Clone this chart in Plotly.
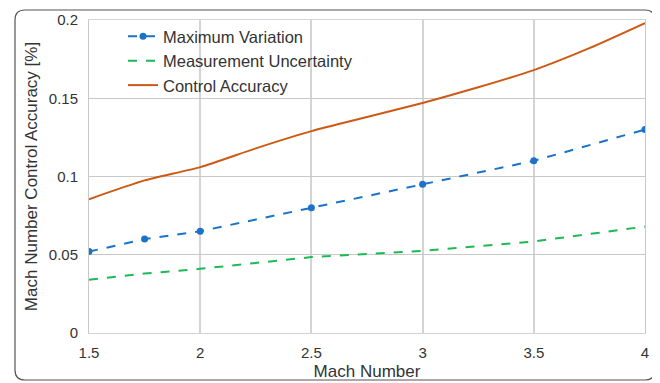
import plotly.graph_objects as go

mach_max = [1.5, 1.75, 2, 2.5, 3, 3.5, 4]
max_variation = [0.052, 0.060, 0.065, 0.080, 0.095, 0.110, 0.130]

mach_meas = [1.5, 1.75, 2, 2.5, 3, 3.5, 4]
meas_uncert = [0.034, 0.038, 0.041, 0.0485, 0.0525, 0.0585, 0.068]

mach_ctrl = [1.5, 1.75, 2, 2.25, 2.5, 2.75, 3, 3.25, 3.5, 3.75, 4]
ctrl_acc = [0.0855, 0.0975, 0.106, 0.118, 0.129, 0.138, 0.147, 0.157, 0.168, 0.182, 0.198]

# page is offset by the 8px body margin, so the figure is 8px smaller
W, H = 652, 375
L, R, T, B = 81, 15, 12, 50
pw, ph = W - L - R, H - T - B

def px(x):
    return (x - L) / pw

def py(y):
    return (H - B - y) / ph

fig = go.Figure()
fig.add_trace(go.Scatter(x=mach_max, y=max_variation, name="Maximum Variation",
                         mode="lines+markers",
                         line=dict(color="#1a73c8", width=2, dash="dash"),
                         marker=dict(color="#1a73c8", size=7)))
fig.add_trace(go.Scatter(x=mach_meas, y=meas_uncert, name="Measurement Uncertainty",
                         mode="lines",
                         line=dict(color="#1db954", width=2, dash="dash")))
fig.add_trace(go.Scatter(x=mach_ctrl, y=ctrl_acc, name="Control Accuracy",
                         mode="lines", line=dict(color="#cc5a14", width=2,
                                                 shape="spline", smoothing=0.6)))

# rounded outer frame (figure pixel coords)
x0, x1, y0, y1, r = 7, 647, 2, 372, 10
rx, ry = r / pw, r / ph
X0, X1, Y0, Y1 = px(x0), px(x1), py(y0), py(y1)
path = (f"M {X0+rx},{Y0} L {X1-rx},{Y0} Q {X1},{Y0} {X1},{Y0-ry} "
        f"L {X1},{Y1+ry} Q {X1},{Y1} {X1-rx},{Y1} "
        f"L {X0+rx},{Y1} Q {X0},{Y1} {X0},{Y1+ry} "
        f"L {X0},{Y0-ry} Q {X0},{Y0} {X0+rx},{Y0} Z")

fig.update_layout(
    width=W, height=H,
    margin=dict(l=L, r=R, t=T, b=B, autoexpand=False),
    paper_bgcolor="white", plot_bgcolor="white",
    font=dict(family="Liberation Sans, Arial, sans-serif", size=15, color="#333"),
    showlegend=True,
    legend=dict(x=px(115), y=py(11), xanchor="left", yanchor="top",
                bgcolor="rgba(0,0,0,0)", font=dict(size=16.5, color="#333"),
                tracegroupgap=0, itemwidth=30),
    shapes=[dict(type="path", path=path, xref="paper", yref="paper",
                 line=dict(color="#555", width=1.2), layer="above")],
    xaxis=dict(range=[1.5, 4], tickvals=[1.5, 2, 2.5, 3, 3.5, 4],
               ticktext=["1.5", "2", "2.5", "3", "3.5", "4"],
               showgrid=True, gridcolor="#d4d4d4", gridwidth=1.5,
               zeroline=False, showline=True, linecolor="#d4d4d4", mirror=True,
               ticks="outside", ticklen=6, tickcolor="rgba(0,0,0,0)",
               tickfont=dict(size=15, color="#333"),
               title=dict(text="Mach Number", standoff=5, font=dict(size=17, color="#333"))),
    yaxis=dict(range=[0, 0.2], tickvals=[0, 0.05, 0.1, 0.15, 0.2],
               ticktext=["0", "0.05", "0.1", "0.15", "0.2"],
               showgrid=True, gridcolor="#c8c8c8", gridwidth=1,
               zeroline=False, showline=True, linecolor="#c8c8c8", mirror=True,
               ticks="outside", ticklen=7, tickcolor="rgba(0,0,0,0)",
               tickfont=dict(size=15, color="#333"),
               title=dict(text="Mach Number Control Accuracy [%]", standoff=6,
                          font=dict(size=17, color="#333"))),
)

fig.write_html("out.html")
